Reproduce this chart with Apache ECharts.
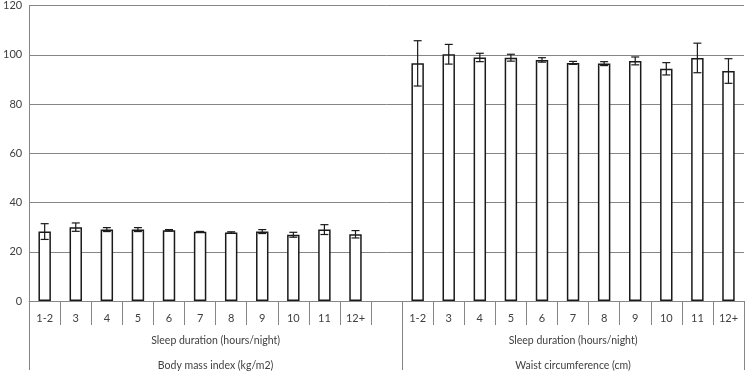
<!DOCTYPE html>
<html>
<head>
<meta charset="utf-8">
<script src="https://cdn.jsdelivr.net/npm/echarts@6/dist/echarts.min.js"></script>
<style>html,body{margin:0;padding:0;background:#fff}#c{width:747px;height:371px}</style>
</head>
<body>
<div id="c"></div>
<script>
const categories = ['1-2','3','4','5','6','7','8','9','10','11','12+'];
const bmiMean  = [28.2, 30.0, 29.0, 29.0, 28.7, 28.1, 27.8, 28.2, 26.9, 29.0, 27.1];
const bmiErr   = [3.2, 1.7, 0.8, 0.8, 0.3, 0.15, 0.3, 0.8, 1.0, 2.0, 1.5];
const waistMean = [96.5, 100.2, 98.9, 98.8, 97.9, 96.7, 96.4, 97.5, 94.3, 98.7, 93.4];
const waistErr  = [9.2, 4.0, 1.7, 1.4, 0.9, 0.6, 0.8, 1.6, 2.5, 6.0, 5.0];
const axisTitle = 'Sleep duration (hours/night)';
const groupLabels = ['Body mass index (kg/m2)', 'Waist circumference (cm)'];
const yTicks = [0, 20, 40, 60, 80, 100, 120];

const FONT = 'Lato';
const gray = '#868686';
const txt = '#404040';

// 23 slots: 11 BMI, 1 blank, 11 waist
const xCats = categories.concat([''], categories);
const barData = bmiMean.concat([null], waistMean);
const errData = [];
bmiMean.forEach((m, i) => errData.push([i, m - bmiErr[i], m + bmiErr[i]]));
waistMean.forEach((m, i) => errData.push([i + 12, m - waistErr[i], m + waistErr[i]]));

// half-unit positions for group labels (boundaryGap false), 0..23 in steps of 0.5
const nHalf = xCats.length * 2 + 1;
const leftCenter = 12;              // 6 units -> middle of slots 0..11
const rightCenter = 12 * 2 + 11;    // 17.5 units -> middle of slots 12..22
const sepIdx = [0, 24, nHalf - 1];
const row2 = [], row3 = [];
for (let i = 0; i < nHalf; i++) {
  row2.push(i === leftCenter || i === rightCenter ? axisTitle : '');
  row3.push(i === leftCenter ? groupLabels[0] : (i === rightCenter ? groupLabels[1] : ''));
}

const chart = echarts.init(document.getElementById('c'), null, {renderer: 'canvas'});
chart.setOption({
  animation: false,
  grid: {left: 28, right: 2, top: 5, bottom: 70, containLabel: false},
  yAxis: {
    type: 'value', min: yTicks[0], max: yTicks[yTicks.length - 1], interval: 20,
    axisLine: {show: true, lineStyle: {color: gray, width: 1}},
    axisTick: {show: false},
    axisLabel: {color: txt, fontFamily: FONT, fontSize: 11, margin: 7},
    splitLine: {lineStyle: {color: gray, width: 1}}
  },
  xAxis: [
    {
      type: 'category', data: xCats, boundaryGap: true, position: 'bottom',
      axisLine: {show: true, lineStyle: {color: gray, width: 1}},
      axisTick: {show: true, length: 24, interval: 0, lineStyle: {color: gray}},
      axisLabel: {interval: 0, color: txt, fontFamily: FONT, fontSize: 11, margin: 12}
    },
    {
      type: 'category', data: row2, boundaryGap: false, position: 'bottom',
      axisLine: {show: false},
      axisTick: {show: true, length: 69, interval: (i) => sepIdx.indexOf(i) >= 0, lineStyle: {color: gray}},
      axisLabel: {interval: 0, color: txt, fontFamily: FONT, fontSize: 10.5, margin: 34}
    },
    {
      type: 'category', data: row3, boundaryGap: false, position: 'bottom',
      axisLine: {show: false},
      axisTick: {show: false},
      axisLabel: {interval: 0, color: txt, fontFamily: FONT, fontSize: 10.5, margin: 59}
    }
  ],
  series: [
    {
      type: 'bar', xAxisIndex: 0, data: barData, barWidth: '40%',
      itemStyle: {color: '#ffffff', borderColor: '#1a1a1a', borderWidth: 1.5}
    },
    {
      type: 'custom', xAxisIndex: 0, data: errData, z: 5,
      renderItem: function (params, api) {
        const x = api.value(0);
        const lo = api.coord([x, api.value(1)]);
        const hi = api.coord([x, api.value(2)]);
        const cap = 4;
        const style = {stroke: '#1a1a1a', lineWidth: 1.2};
        return {
          type: 'group',
          children: [
            {type: 'line', shape: {x1: lo[0], y1: lo[1], x2: hi[0], y2: hi[1]}, style},
            {type: 'line', shape: {x1: lo[0] - cap, y1: lo[1], x2: lo[0] + cap, y2: lo[1]}, style},
            {type: 'line', shape: {x1: hi[0] - cap, y1: hi[1], x2: hi[0] + cap, y2: hi[1]}, style}
          ]
        };
      }
    }
  ]
});
</script>
</body>
</html>
